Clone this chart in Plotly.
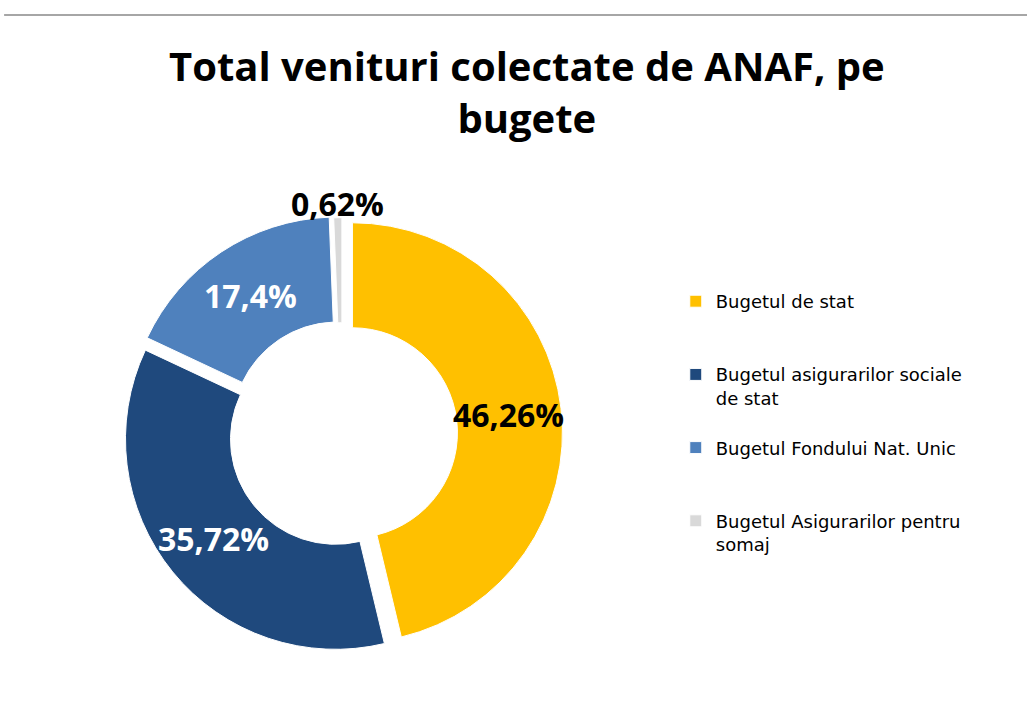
import math
import plotly.graph_objects as go

categories = ["Bugetul de stat", "Bugetul asigurarilor sociale de stat",
              "Bugetul Fondului Nat. Unic", "Bugetul Asigurarilor pentru somaj"]
legend_labels = ["Bugetul de stat<br> <br> ",
                 "Bugetul asigurarilor sociale<br>de stat<br> ",
                 "Bugetul Fondului Nat. Unic<br> <br> ",
                 "Bugetul Asigurarilor pentru<br>somaj<br> "]
values = [46.26, 35.72, 17.4, 0.62]
text_labels = [str(v).replace(".", ",") + "%" for v in values]
colors = ["#FFC000", "#1F497D", "#4F81BD", "#D9D9D9"]
text_colors = ["#000000", "#FFFFFF", "#FFFFFF", "#000000"]
pulls = [0.05, 0.04, 0.04, 0.03]
outside = [False, False, False, True]

W, H = 1027, 704
cx, cy, r = 342, 434, 210
hole = 0.5
maxp = max(pulls)
half = r * (1 + maxp)

fig = go.Figure(go.Pie(
    labels=legend_labels,
    values=values,
    textinfo="none",
    sort=False,
    direction="clockwise",
    rotation=0,
    hole=hole,
    pull=pulls,
    marker=dict(colors=colors, line=dict(color="white", width=1)),
    domain=dict(x=[(cx - half) / W, (cx + half) / W],
                y=[(H - cy - half) / H, (H - cy + half) / H]),
    hovertext=categories,
    hoverinfo="text+percent",
))

# percentage labels placed along each slice bisector (derived from the data)
total = sum(values)
annotations = []
cum = 0.0
for v, txt, col, p, out in zip(values, text_labels, text_colors, pulls, outside):
    theta = 2 * math.pi * (cum + v / 2) / total
    cum += v
    if out:
        rad = r * (1 + p) + 14
    else:
        rad = r * (1 + hole) / 2 + r * p
    px = cx + rad * math.sin(theta)
    py = cy - rad * math.cos(theta)
    annotations.append(dict(
        x=px / W, y=1 - py / H, xref="paper", yref="paper",
        text="<b>" + txt + "</b>", showarrow=False,
        xanchor="center", yanchor="middle",
        font=dict(family="Open Sans", size=32, color=col)))

fig.update_layout(
    width=W, height=H,
    margin=dict(l=0, r=0, t=0, b=0),
    paper_bgcolor="white",
    font=dict(family="Open Sans"),
    title=dict(text="<b>Total venituri colectate de ANAF, pe<br>bugete</b>",
               x=0.513, xanchor="center", y=0.885, yanchor="top",
               font=dict(family="Open Sans", size=40, color="#000000")),
    legend=dict(x=0.658, y=0.598, xanchor="left", yanchor="top",
                valign="top", font=dict(family="DejaVu Sans", size=18, color="#000000"),
                itemwidth=30),
    annotations=annotations,
    shapes=[dict(type="line", xref="paper", yref="paper", x0=0.004, x1=1,
                 y0=1 - 15 / H, y1=1 - 15 / H, line=dict(color="#888888", width=1.5))],
)

fig.write_html("out.html", config={"displayModeBar": False},
               post_script="document.body.style.margin='0';")
